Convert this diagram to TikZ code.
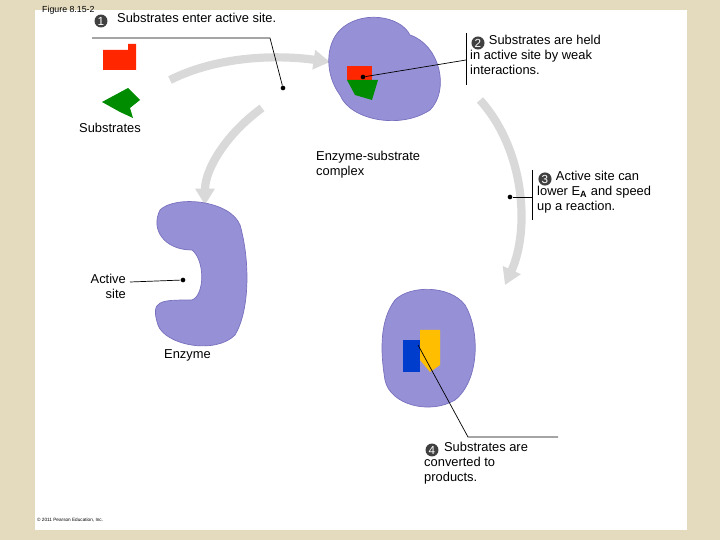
\documentclass[tikz,border=0pt]{standalone}
\usepackage{fontspec}
\setmainfont{Liberation Sans}
\definecolor{enz}{RGB}{150,145,215}
\definecolor{enzd}{RGB}{120,112,190}
\definecolor{parch}{RGB}{228,218,190}
\begin{document}
\begin{tikzpicture}[x=0.03cm,y=-0.03cm,
  lbl/.style={anchor=north west,align=left,font=\fontsize{11}{12.6}\selectfont,inner sep=0pt},
  num/.style={circle,fill=black!75,text=white,inner sep=0.8pt,font=\fontsize{10}{10}\selectfont},
  dotc/.style={circle,fill=black,inner sep=1.4pt},
  lead/.style={draw=black,line width=0.6pt},
  garrow/.style={draw=black!15,line width=7pt,-{Triangle[length=14pt,width=16pt]}},
  blob/.style={fill=enz,draw=enzd,line width=0.6pt}]
\usetikzlibrary{arrows.meta}
\fill[parch] (0,0) rectangle (720,540);
\fill[white] (35,10) rectangle (687,530);
\node[lbl,font=\fontsize{7.5}{8}\selectfont] (fig) at (42,6) {Figure 8.15-2};
\node[lbl,font=\fontsize{4}{5}\selectfont] (copy) at (37,518) {\textcopyright\ 2011 Pearson Education, Inc.};
% gray arrows
\draw[garrow] (170,80) .. controls (220,55) and (280,55) .. (330,62);
\draw[garrow] (262,108) .. controls (225,135) and (205,170) .. (205,205);
\draw[garrow] (480,100) .. controls (525,150) and (530,230) .. (505,285);
% substrates
\fill[red!70!orange] (103,50) -- (128,50) -- (128,44) -- (136,44) -- (136,70) -- (103,70) -- cycle;
\fill[green!55!black] (102,102) -- (128,88) -- (140,100) -- (130,108) -- (133,118) -- (120,112) -- cycle;
% complex
\fill[blob] (340,30) .. controls (360,10) and (400,15) .. (410,35) .. controls (440,45) and (450,90) .. (430,110) .. controls (400,130) and (350,120) .. (340,95) .. controls (325,75) and (325,45) .. (340,30);
\fill[red!70!orange] (347,66) rectangle (372,80);
\fill[green!55!black] (347,80) -- (378,80) -- (372,100) -- (355,95) -- cycle;
% enzyme
\fill[blob] (160,210) .. controls (175,195) and (230,200) .. (240,225) .. controls (250,260) and (250,310) .. (235,335) .. controls (215,355) and (165,345) .. (158,325) .. controls (150,300) and (160,300) .. (192,300) .. controls (205,295) and (205,260) .. (192,250) .. controls (165,250) and (150,230) .. (160,210);
% products complex
\fill[blob] (395,300) .. controls (410,285) and (450,285) .. (465,305) .. controls (480,330) and (480,380) .. (455,400) .. controls (430,415) and (390,405) .. (385,380) .. controls (380,350) and (380,320) .. (395,300);
\fill[blue!70!cyan!80!black] (403,340) rectangle (420,372);
\fill[orange!50!yellow] (420,330) -- (440,330) -- (440,365) -- (430,372) -- (420,360) -- cycle;
% labels and leads
\node[num] (n1) at (101,21) {1};
\node[lbl] (t1) at (117,13) {Substrates enter active site.};
\coordinate (c1a) at (92,38); \coordinate (c1b) at (270,38);
\node[dotc] (d1) at (283,88) {};
\draw[lead] (c1a) -- (c1b) -- (d1);
\node[lbl] (sub) at (79,123) {Substrates};
\node[num] (n2) at (478,43) {2};
\node[lbl] (t2) at (470,35) {\hspace{16pt}Substrates are held\\in active site by weak\\interactions.};
\coordinate (v2a) at (466,33); \coordinate (v2b) at (466,85); \coordinate (v2c) at (466,60);
\draw[lead] (v2a) -- (v2b);
\node[dotc] (d2) at (363,77) {};
\draw[lead] (v2c) -- (d2);
\node[lbl] (esc) at (316,151) {Enzyme-substrate\\complex};
\node[num] (n3) at (545,179) {3};
\node[lbl] (t3) at (537,171) {\hspace{16pt}Active site can\\lower E\textsubscript{\textbf{A}} and speed\\up a reaction.};
\coordinate (v3a) at (532,170); \coordinate (v3b) at (532,220); \coordinate (v3c) at (532,197);
\draw[lead] (v3a) -- (v3b);
\node[dotc] (d3) at (510,197) {};
\draw[lead] (v3c) -- (d3);
\node[lbl,align=right,anchor=north east] (as) at (126,274) {Active\\site};
\coordinate (c4) at (130,282);
\node[dotc] (d4) at (183,280) {};
\draw[lead] (c4) -- (d4);
\node[lbl] (enz) at (164,349) {Enzyme};
\node[num] (n5) at (432,450) {4};
\node[lbl] (t5) at (424,442) {\hspace{17pt}Substrates are\\converted to\\products.};
\coordinate (c5a) at (418,345); \coordinate (c5b) at (468,437); \coordinate (c5c) at (558,437);
\draw[lead] (c5a) -- (c5b) -- (c5c);
\end{tikzpicture}
\end{document}
